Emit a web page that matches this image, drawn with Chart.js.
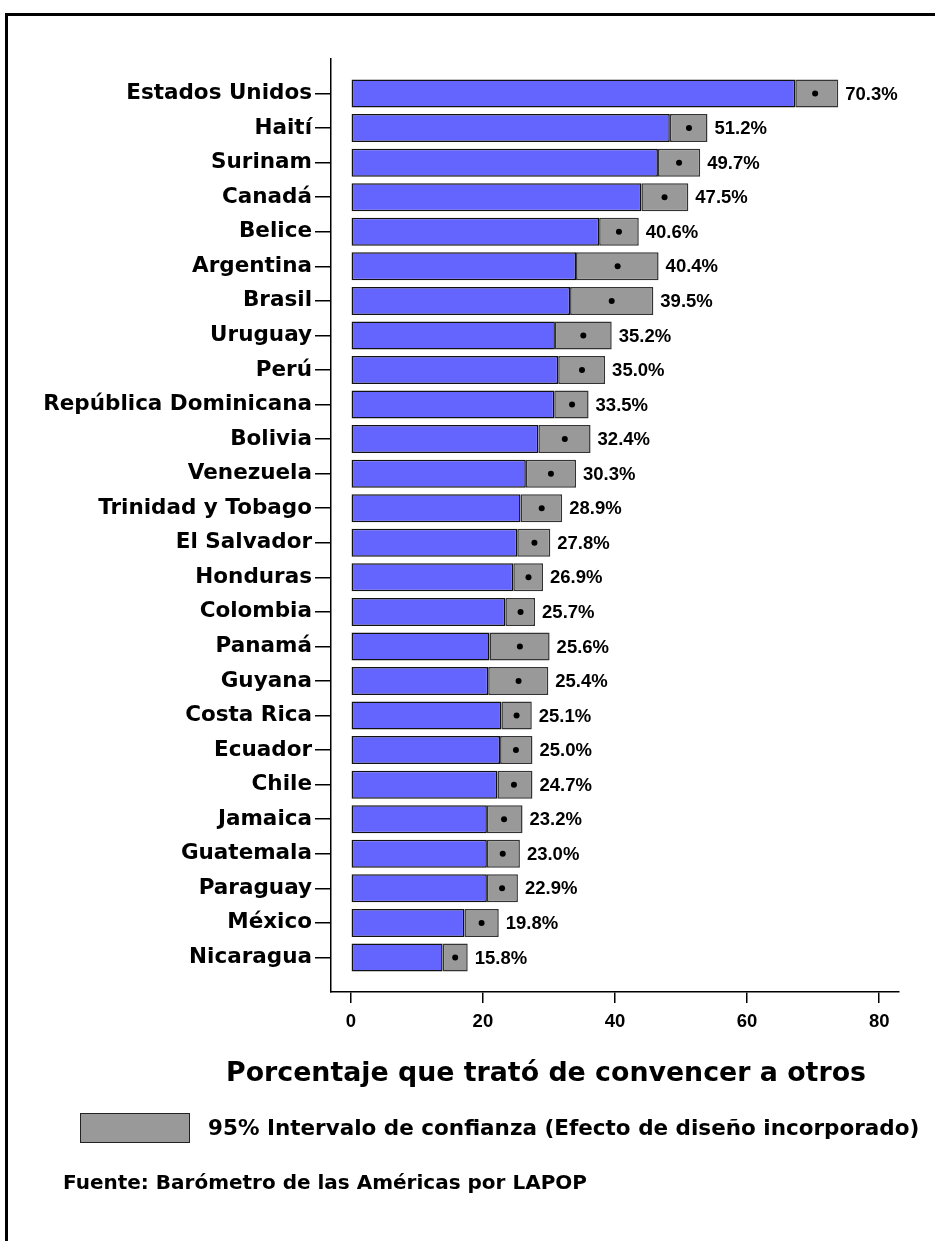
<!DOCTYPE html>
<html>
<head>
<meta charset="utf-8">
<script src="https://cdn.jsdelivr.net/npm/chart.js@4/dist/chart.umd.min.js"></script>
<style>
body { margin: 0; background: #fff; }
#wrap { position: relative; width: 935px; height: 1241px; overflow: hidden; background: #fff; }
#c { position: absolute; left: 0; top: 0; }
.frame { position: absolute; left: 5px; top: 13px; width: 960px; height: 1300px; border-left: 3px solid #000; border-top: 3px solid #000; }
.txt { position: absolute; white-space: nowrap; font-family: "DejaVu Sans"; font-weight: bold; color: #000; }
#title { left: 226px; top: 1058px; font-size: 26.8px; line-height: 28px; }
#swatch { position: absolute; left: 80px; top: 1113px; width: 108px; height: 28px; background: #999; border: 1.5px solid #222; }
#legend { left: 208px; top: 1117px; font-size: 21.5px; line-height: 22.5px; }
#source { left: 63px; top: 1172px; font-size: 20px; line-height: 20px; }
</style>
</head>
<body>
<div id="wrap">
  <div class="frame"></div>
  <canvas id="c" width="935" height="1241"></canvas>
  <div class="txt" id="title">Porcentaje que trató de convencer a otros</div>
  <div id="swatch"></div>
  <div class="txt" id="legend">95% Intervalo de confianza (Efecto de diseño incorporado)</div>
  <div class="txt" id="source">Fuente: Barómetro de las Américas por LAPOP</div>
</div>
<script>
const countries = ['Estados Unidos', 'Haití', 'Surinam', 'Canadá', 'Belice', 'Argentina', 'Brasil',
    'Uruguay', 'Perú', 'República Dominicana', 'Bolivia', 'Venezuela', 'Trinidad y Tobago',
    'El Salvador', 'Honduras', 'Colombia', 'Panamá', 'Guyana', 'Costa Rica', 'Ecuador', 'Chile',
    'Jamaica', 'Guatemala', 'Paraguay', 'México', 'Nicaragua'];
const values = [70.3, 51.2, 49.7, 47.5, 40.6, 40.4, 39.5, 35.2, 35.0, 33.5, 32.4, 30.3, 28.9,
    27.8, 26.9, 25.7, 25.6, 25.4, 25.1, 25.0, 24.7, 23.2, 23.0, 22.9, 19.8, 15.8];
// 95% confidence interval bounds
const lower = [67.3, 48.3, 46.5, 44.0, 37.6, 34.1, 33.2, 30.9, 31.4, 30.8, 28.4, 26.5, 25.7,
    25.2, 24.6, 23.4, 21.0, 20.8, 22.8, 22.6, 22.2, 20.6, 20.6, 20.6, 17.2, 13.9];
const upper = [73.8, 54.0, 52.9, 51.1, 43.6, 46.6, 45.8, 39.5, 38.5, 36.0, 36.3, 34.1, 32.0,
    30.2, 29.1, 27.9, 30.1, 29.9, 27.4, 27.5, 27.5, 26.0, 25.6, 25.3, 22.4, 17.7];
const xTicks = [0, 20, 40, 60, 80];

// an empty slot above and below gives the half-row gap at both ends of the axis
const pad = arr => [null, ...arr, null];
const labels = ['', ...countries, ''];

const valueLabels = {
    id: 'valueLabels',
    afterDatasetsDraw(chart) {
        const {ctx, scales: {x, y}} = chart;
        ctx.save();
        ctx.font = 'bold 18.5px "Liberation Sans"';
        ctx.fillStyle = '#000';
        ctx.textBaseline = 'middle';
        values.forEach((v, i) => {
            ctx.fillText(v.toFixed(1) + '%', x.getPixelForValue(upper[i]) + 7, y.getPixelForValue(i + 1) + 1);
        });
        ctx.restore();
    }
};

new Chart(document.getElementById('c'), {
    type: 'bar',
    data: {
        labels: labels,
        datasets: [{
            type: 'line',
            indexAxis: 'y',
            data: pad(values),
            showLine: false,
            pointRadius: 3,
            pointBorderWidth: 0,
            pointBackgroundColor: '#000',
            order: 0
        }, {
            indexAxis: 'y',
            data: pad(lower.map((l, i) => [l, upper[i]])),
            backgroundColor: '#999999',
            borderColor: '#333',
            borderWidth: 1.5,
            borderSkipped: false,
            grouped: false,
            barPercentage: 0.81,
            categoryPercentage: 1,
            order: 1
        }, {
            indexAxis: 'y',
            data: pad(lower),
            backgroundColor: '#6464ff',
            borderColor: '#111',
            borderWidth: 1.5,
            borderSkipped: false,
            grouped: false,
            barPercentage: 0.81,
            categoryPercentage: 1,
            order: 2
        }]
    },
    options: {
        indexAxis: 'y',
        responsive: false,
        animation: false,
        layout: {padding: {left: 0, top: 59, right: 36, bottom: 204}},
        plugins: {legend: {display: false}, tooltip: {enabled: false}},
        scales: {
            x: {
                type: 'linear',
                min: -3,
                max: 83,
                afterBuildTicks: s => { s.ticks = xTicks.map(v => ({value: v})); },
                afterFit: s => { s.height = 45; },
                grid: {drawOnChartArea: false, tickLength: 11, color: '#000', lineWidth: 1.5},
                border: {color: '#000', width: 1.5},
                ticks: {color: '#000', padding: 8, font: {family: 'Liberation Sans', weight: 'bold', size: 18.5}}
            },
            y: {
                type: 'category',
                offset: false,
                afterFit: s => { s.width = 331; },
                grid: {
                    offset: false,
                    drawOnChartArea: false,
                    tickLength: 16,
                    lineWidth: 1.5,
                    color: c => (c.tick && c.tick.label === '') ? 'rgba(0,0,0,0)' : '#000'
                },
                border: {color: '#000', width: 1.5},
                ticks: {color: '#000', padding: 3, autoSkip: false, font: {family: 'DejaVu Sans', weight: 'bold', size: 21.5}}
            }
        }
    },
    plugins: [valueLabels]
});
</script>
</body>
</html>
